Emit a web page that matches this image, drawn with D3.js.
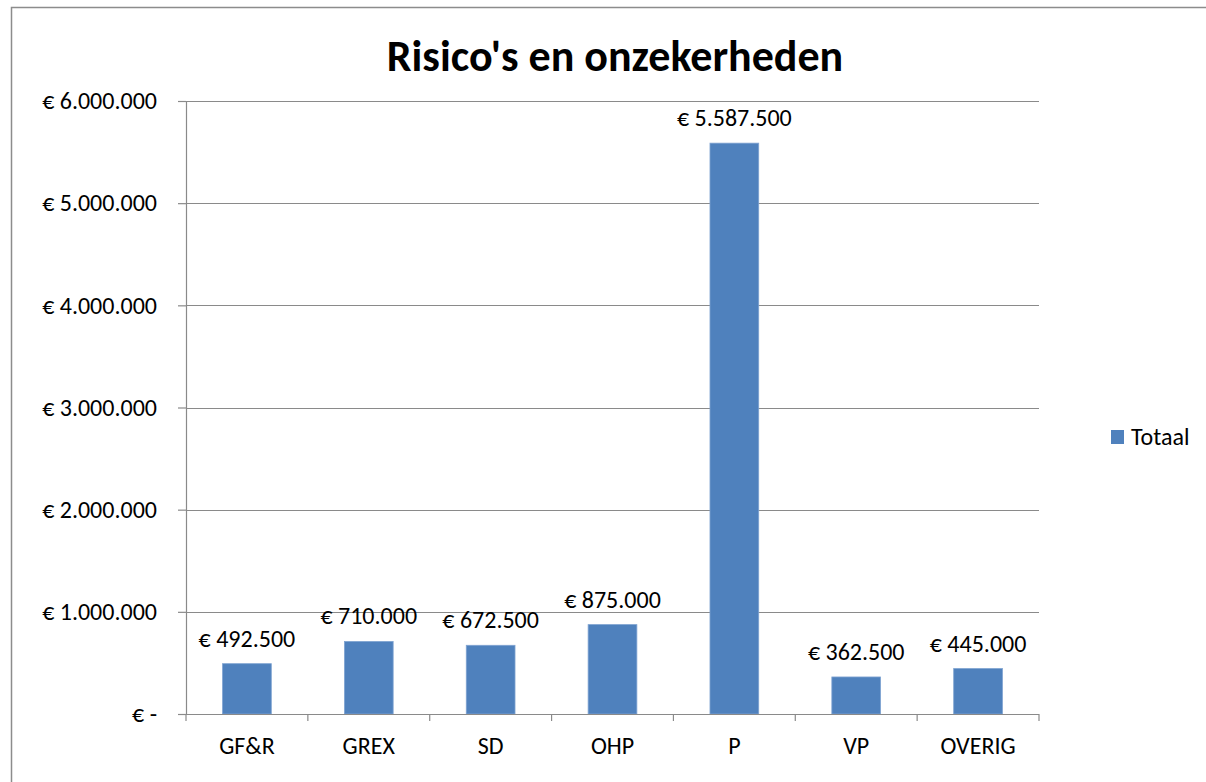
<!DOCTYPE html>
<html>
<head>
<meta charset="utf-8">
<script src="https://cdn.jsdelivr.net/npm/d3@7"></script>
<style>
  body { margin: 0; background: #fff; overflow: hidden; }
  svg { display: block; font-family: Carlito, Lato, "Open Sans", sans-serif; }
</style>
</head>
<body>
<svg id="viz"></svg>
<script>
// --- Data ---
const categories = ["GF&R", "GREX", "SD", "OHP", "P", "VP", "OVERIG"];
const totals = [492500, 710000, 672500, 875000, 5587500, 362500, 445000];
const yTicks = [0, 1000000, 2000000, 3000000, 4000000, 5000000, 6000000];
const seriesName = "Totaal";

const width = 1206;
const height = 782;
const plot = { left: 186, right: 1039, top: 101, bottom: 714 };

const svg = d3.select("#viz")
  .attr("width", width)
  .attr("height", height);

svg.append("rect")
  .attr("width", width)
  .attr("height", height)
  .attr("fill", "white");

// --- Outer chart border (runs past the right and bottom edges) ---
svg.append("path")
  .attr("d", `M11.5,${height + 5} V7.5 H${width + 5}`)
  .attr("fill", "none")
  .attr("stroke", "#8c8c8c")
  .attr("stroke-width", 1.5);

// --- Euro format, Dutch style ---
const nl = d3.formatLocale({ decimal: ",", thousands: ".", grouping: [3], currency: ["€ ", ""] });
const fmt = v => v === 0 ? "€ -" : "€ " + nl.format(",d")(v);

// --- Scales ---
const x = d3.scaleBand()
  .domain(categories)
  .range([plot.left, plot.right])
  .paddingInner(0.6)
  .paddingOuter(0.3);

const xCat = d3.scaleBand()
  .domain(categories)
  .range([plot.left, plot.right]);

const y = d3.scaleLinear()
  .domain([0, 6000000])
  .range([plot.bottom, plot.top]);

// --- Title ---
svg.append("text")
  .attr("x", 615)
  .attr("y", 71)
  .attr("text-anchor", "middle")
  .attr("font-size", 44)
  .attr("font-weight", "bold")
  .attr("fill", "#000")
  .text("Risico's en onzekerheden");

// --- Gridlines ---
svg.append("g")
  .selectAll("line")
  .data(yTicks.filter(d => d > 0))
  .join("line")
  .attr("x1", plot.left)
  .attr("x2", plot.right)
  .attr("y1", d => Math.round(y(d)) + 0.5)
  .attr("y2", d => Math.round(y(d)) + 0.5)
  .attr("stroke", "#8a8a8a")
  .attr("stroke-width", 1.2);

// --- Y axis ---
const yAxis = svg.append("g")
  .attr("transform", `translate(${plot.left},0)`)
  .call(d3.axisLeft(y).tickValues(yTicks).tickFormat(fmt).tickSize(8).tickPadding(21));
yAxis.select(".domain").attr("stroke", "#8a8a8a").attr("stroke-width", 1.2);
yAxis.selectAll(".tick line").attr("stroke", "#8a8a8a").attr("stroke-width", 1.2);
yAxis.selectAll(".tick text")
  .attr("font-family", "Carlito, Lato, sans-serif")
  .attr("font-size", 24)
  .attr("fill", "#000");

// --- Bars ---
svg.append("g")
  .selectAll("rect")
  .data(categories)
  .join("rect")
  .attr("x", d => x(d))
  .attr("width", x.bandwidth())
  .attr("y", (d, i) => y(totals[i]))
  .attr("height", (d, i) => y(0) - y(totals[i]))
  .attr("fill", "#4f81bd")
  .attr("stroke", "#7fa3d1")
  .attr("stroke-width", 0.8);

// --- Data labels ---
svg.append("g")
  .selectAll("text")
  .data(categories)
  .join("text")
  .attr("x", d => x(d) + x.bandwidth() / 2)
  .attr("y", (d, i) => y(totals[i]) - 17)
  .attr("text-anchor", "middle")
  .attr("font-size", 24)
  .attr("fill", "#000")
  .text((d, i) => fmt(totals[i]));

// --- X axis ---
const xAxis = svg.append("g")
  .attr("transform", `translate(0,${plot.bottom})`);
xAxis.append("line")
  .attr("x1", plot.left).attr("x2", plot.right)
  .attr("y1", 0.5).attr("y2", 0.5)
  .attr("stroke", "#8a8a8a").attr("stroke-width", 1.2);
xAxis.selectAll("line.tick")
  .data(categories.map(d => xCat(d)).concat([plot.right]))
  .join("line")
  .attr("class", "tick")
  .attr("x1", d => d).attr("x2", d => d)
  .attr("y1", 0).attr("y2", 7)
  .attr("stroke", "#8a8a8a").attr("stroke-width", 1.2);
xAxis.selectAll("text")
  .data(categories)
  .join("text")
  .attr("x", d => xCat(d) + xCat.bandwidth() / 2)
  .attr("y", 40)
  .attr("text-anchor", "middle")
  .attr("font-size", 24)
  .attr("fill", "#000")
  .text(d => d);

// --- Legend ---
const legend = svg.append("g").attr("transform", "translate(1111,430)");
legend.append("rect")
  .attr("width", 13).attr("height", 14)
  .attr("fill", "#4f81bd");
legend.append("text")
  .attr("x", 20).attr("y", 15)
  .attr("font-size", 24)
  .attr("fill", "#000")
  .text(seriesName);
</script>
</body>
</html>
